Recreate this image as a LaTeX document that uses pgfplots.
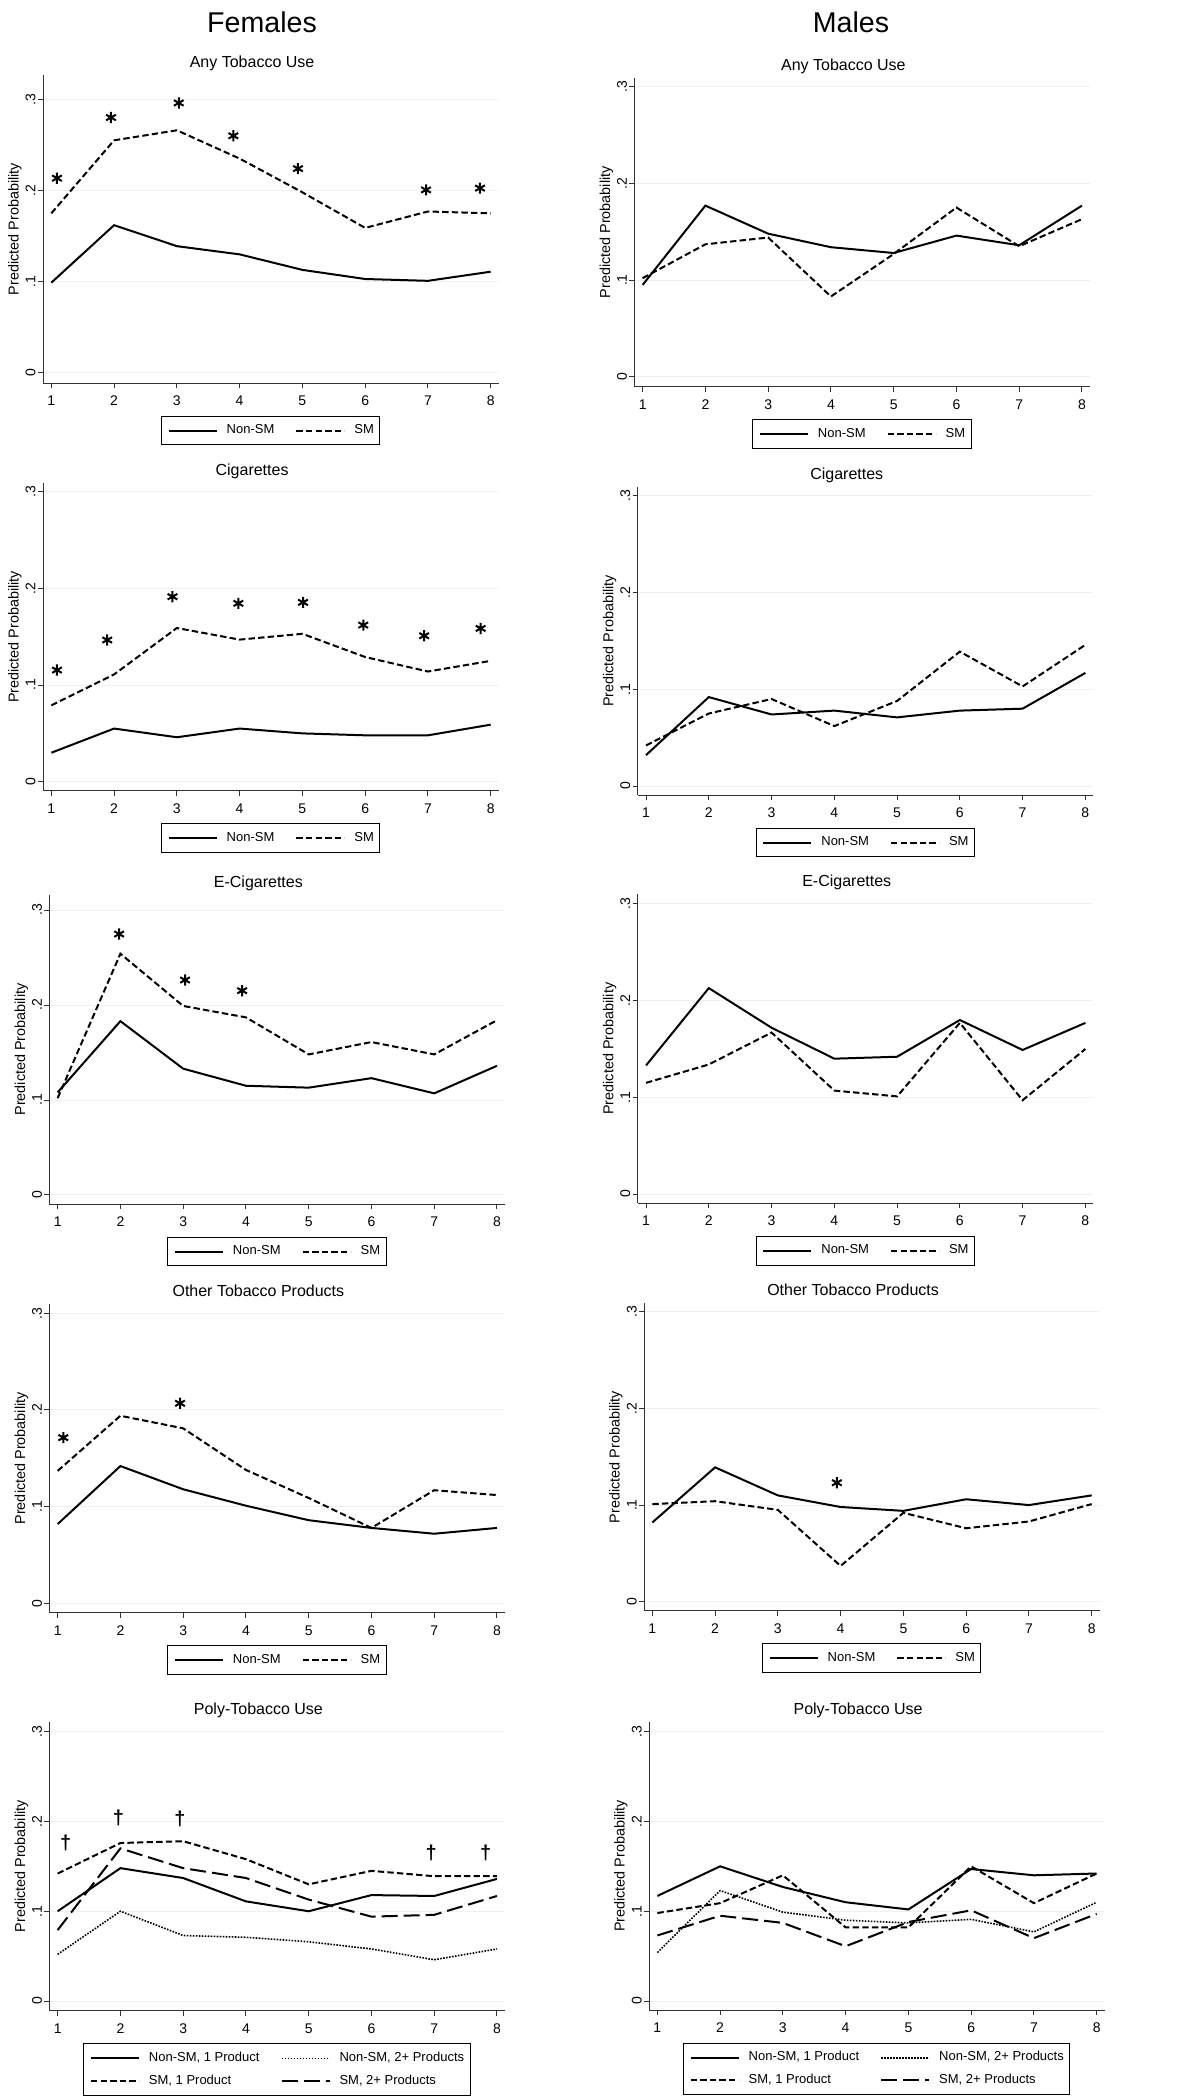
\documentclass[border=0pt]{standalone}
\usepackage{fontspec}
\setmainfont{Liberation Sans}
\usepackage{pgfplots}
\pgfplotsset{compat=1.18}

\definecolor{gridc}{RGB}{234,242,243}
\definecolor{axisc}{RGB}{50,50,50}

% line styles (tikz namespace so the legend images know them)
\tikzset{
  nonsm/.style={black, line width=1pt},
  sm/.style={black, line width=1pt, dash pattern=on 3.2pt off 1.6pt},
  smlong/.style={black, line width=1pt, dash pattern=on 8pt off 3pt},
  dotl/.style={black, line width=0.8pt, dash pattern=on 0.8pt off 0.7pt},
}

\pgfplotsset{
  legend image code/.code={\draw[#1] (0pt,0pt) -- (24pt,0pt);},
  frame/.style={scale only axis, anchor=south west, width=227.75pt, clip=false,
    xmin=0.867, xmax=8.125},
  panel/.style={
    frame,
    axis lines*=left,
    axis line style={line width=0.5pt, axisc},
    every tick/.style={line width=0.5pt, axisc},
    tick align=outside, major tick length=2.5pt,
    xtick={1,...,8}, ytick={0,0.1,0.2,0.3}, yticklabels={0,.1,.2,.3},
    ymajorgrids, grid style={gridc, line width=0.5pt},
    tick label style={font=\fontsize{7}{8}\selectfont},
    /pgf/number format/assume math mode=true,
    yticklabel style={rotate=90, anchor=base, inner sep=0pt},
    xticklabel style={anchor=north, inner sep=0pt},
    yticklabel shift=1.25pt, xticklabel shift=3.75pt,
    title style={font=\fontsize{8}{9}\selectfont, at={(axis description cs:0.459,1)}, anchor=base, yshift=-2.3pt},
    ylabel={Predicted Probability},
    ylabel style={font=\fontsize{7.2}{8}\selectfont, at={(axis description cs:-0.0615,0.5)}, anchor=center},
    legend columns=2,
    legend style={draw=black, line width=0.5pt, font=\fontsize{6.5}{7}\selectfont,
      at={(axis description cs:0.5,0)}, anchor=north, yshift=-16.3pt,
      inner xsep=3pt, inner ysep=4.2pt, row sep=5pt,
      nodes={inner sep=0pt}, cells={anchor=west},
      /tikz/every odd column/.append style={column sep=4.5pt},
      /tikz/every even column/.append style={column sep=10.5pt}},
  },
  star/.style={only marks, mark=asterisk, mark size=2.8pt, mark options={black, line width=1pt}, forget plot},
  dag/.style={only marks, mark=text, text mark={\bfseries\fontsize{10}{10}\selectfont †}, mark options={black}},
}

\begin{document}
\begin{tikzpicture}
\path[use as bounding box] (0,0) rectangle (589.5pt,-1050pt);
\node[anchor=base, font=\fontsize{14.3}{16}\selectfont] at (131pt,-16.1pt) {Females};
\node[anchor=base, font=\fontsize{14.3}{16}\selectfont] at (425.5pt,-16.1pt) {Males};

% ---- row 1: any tobacco use
\begin{axis}[panel, at={(21.5pt,-191.5pt)}, height=154pt, ymin=-0.011, ymax=0.3266, title={Any Tobacco Use}]
\addplot[nonsm] coordinates {(1,0.099)(2,0.162)(3,0.139)(4,0.130)(5,0.113)(6,0.103)(7,0.101)(8,0.111)};
\addplot[sm] coordinates {(1,0.175)(2,0.255)(3,0.266)(4,0.235)(5,0.198)(6,0.159)(7,0.177)(8,0.175)};
\addplot[star] coordinates {(1.09,0.2135)(1.95,0.280)(3.03,0.296)(3.9,0.260)(4.93,0.224)(6.97,0.2007)(7.83,0.2026)};
\legend{Non-SM, SM}
\end{axis}

\begin{axis}[panel, at={(317.15pt,-193.35pt)}, height=154.35pt, ymin=-0.0103, ymax=0.309, title={Any Tobacco Use}]
\addplot[nonsm] coordinates {(1,0.095)(2,0.177)(3,0.148)(4,0.134)(5,0.128)(6,0.146)(7,0.136)(8,0.177)};
\addplot[sm] coordinates {(1,0.102)(2,0.137)(3,0.144)(4,0.083)(5,0.127)(6,0.175)(7,0.135)(8,0.163)};
\legend{Non-SM, SM}
\end{axis}

% ---- row 2: cigarettes
\begin{axis}[panel, at={(21.5pt,-395.35pt)}, height=153.85pt, ymin=-0.0093, ymax=0.309, title={Cigarettes}]
\addplot[nonsm] coordinates {(1,0.030)(2,0.055)(3,0.046)(4,0.055)(5,0.050)(6,0.048)(7,0.048)(8,0.059)};
\addplot[sm] coordinates {(1,0.079)(2,0.111)(3,0.159)(4,0.147)(5,0.153)(6,0.129)(7,0.114)(8,0.125)};
\addplot[star] coordinates {(1.09,0.1155)(1.89,0.1466)(2.93,0.1914)(3.98,0.1845)(5.01,0.1855)(5.97,0.162)(6.94,0.151)(7.84,0.1586)};
\legend{Non-SM, SM}
\end{axis}

\begin{axis}[panel, at={(318.85pt,-397.5pt)}, height=154.15pt, ymin=-0.0093, ymax=0.3096, title={Cigarettes}]
\addplot[nonsm] coordinates {(1,0.032)(2,0.092)(3,0.074)(4,0.078)(5,0.071)(6,0.078)(7,0.080)(8,0.117)};
\addplot[sm] coordinates {(1,0.042)(2,0.075)(3,0.090)(4,0.062)(5,0.088)(6,0.139)(7,0.103)(8,0.146)};
\legend{Non-SM, SM}
\end{axis}

% ---- row 3: e-cigarettes
\begin{axis}[panel, at={(24.65pt,-602pt)}, height=154.5pt, ymin=-0.0095, ymax=0.3158, title={E-Cigarettes}]
\addplot[nonsm] coordinates {(1,0.108)(2,0.183)(3,0.133)(4,0.115)(5,0.113)(6,0.123)(7,0.107)(8,0.136)};
\addplot[sm] coordinates {(1,0.102)(2,0.254)(3,0.199)(4,0.187)(5,0.148)(6,0.161)(7,0.148)(8,0.184)};
\addplot[star] coordinates {(1.98,0.2747)(3.03,0.2263)(3.94,0.2151)};
\legend{Non-SM, SM}
\end{axis}

\begin{axis}[panel, at={(318.85pt,-601.65pt)}, height=154.65pt, ymin=-0.0096, ymax=0.3103, title={E-Cigarettes}]
\addplot[nonsm] coordinates {(1,0.133)(2,0.213)(3,0.172)(4,0.140)(5,0.142)(6,0.180)(7,0.149)(8,0.177)};
\addplot[sm] coordinates {(1,0.115)(2,0.134)(3,0.167)(4,0.107)(5,0.101)(6,0.177)(7,0.097)(8,0.150)};
\legend{Non-SM, SM}
\end{axis}

% ---- row 4: other tobacco products
\begin{axis}[panel, at={(24.65pt,-806.35pt)}, height=154.35pt, ymin=-0.0097, ymax=0.3096, title={Other Tobacco Products}]
\addplot[nonsm] coordinates {(1,0.082)(2,0.142)(3,0.118)(4,0.101)(5,0.086)(6,0.078)(7,0.072)(8,0.078)};
\addplot[sm] coordinates {(1,0.137)(2,0.194)(3,0.181)(4,0.138)(5,0.109)(6,0.078)(7,0.117)(8,0.112)};
\addplot[star] coordinates {(1.09,0.1714)(2.95,0.2069)};
\legend{Non-SM, SM}
\end{axis}

\begin{axis}[panel, at={(322pt,-805.35pt)}, height=153.7pt, ymin=-0.0093, ymax=0.3087, title={Other Tobacco Products}]
\addplot[nonsm] coordinates {(1,0.082)(2,0.139)(3,0.110)(4,0.098)(5,0.094)(6,0.106)(7,0.100)(8,0.110)};
\addplot[sm] coordinates {(1,0.101)(2,0.104)(3,0.095)(4,0.037)(5,0.092)(6,0.076)(7,0.083)(8,0.101)};
\addplot[star] coordinates {(3.94,0.1231)};
\legend{Non-SM, SM}
\end{axis}

% ---- row 5: poly-tobacco use
\begin{axis}[panel, at={(24.65pt,-1005.35pt)}, height=144.5pt, ymin=-0.0108, ymax=0.3111, title={Poly-Tobacco Use}]
\addplot[nonsm] coordinates {(1,0.100)(2,0.148)(3,0.137)(4,0.111)(5,0.100)(6,0.118)(7,0.117)(8,0.136)};
\addplot[dotl] coordinates {(1,0.052)(2,0.100)(3,0.073)(4,0.071)(5,0.066)(6,0.058)(7,0.046)(8,0.058)};
\addplot[sm] coordinates {(1,0.142)(2,0.176)(3,0.178)(4,0.158)(5,0.130)(6,0.145)(7,0.139)(8,0.139)};
\addplot[smlong] coordinates {(1,0.079)(2,0.170)(3,0.148)(4,0.137)(5,0.113)(6,0.094)(7,0.096)(8,0.117)};
\legend{{Non-SM, 1 Product}, {Non-SM, 2+ Products}, {SM, 1 Product}, {SM, 2+ Products}}
\end{axis}
% daggers on a bare axis with the same frame
\begin{axis}[frame, at={(24.65pt,-1005.35pt)}, height=144.5pt, ymin=-0.0108, ymax=0.3111, axis lines=none, ticks=none]
\addplot[dag] coordinates {(1.13,0.1756)(1.97,0.2035)(2.95,0.2027)(6.95,0.1652)(7.82,0.1652)};
\end{axis}

\begin{axis}[panel, at={(324.5pt,-1005pt)}, height=144.15pt, ymin=-0.010, ymax=0.311, title={Poly-Tobacco Use}]
\addplot[nonsm] coordinates {(1,0.117)(2,0.150)(3,0.127)(4,0.110)(5,0.102)(6,0.147)(7,0.140)(8,0.142)};
\addplot[dotl] coordinates {(1,0.054)(2,0.123)(3,0.099)(4,0.090)(5,0.087)(6,0.091)(7,0.077)(8,0.110)};
\addplot[sm] coordinates {(1,0.098)(2,0.109)(3,0.140)(4,0.082)(5,0.082)(6,0.150)(7,0.109)(8,0.142)};
\addplot[smlong] coordinates {(1,0.073)(2,0.095)(3,0.087)(4,0.061)(5,0.088)(6,0.101)(7,0.070)(8,0.097)};
\legend{{Non-SM, 1 Product}, {Non-SM, 2+ Products}, {SM, 1 Product}, {SM, 2+ Products}}
\end{axis}
\end{tikzpicture}
\end{document}
